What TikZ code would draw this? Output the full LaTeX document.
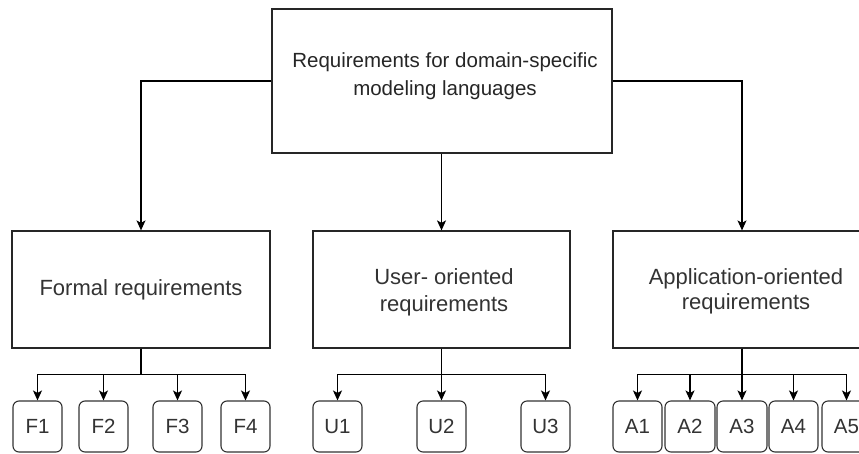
\documentclass[tikz,border=0pt]{standalone}
\usepackage{fontspec}
\setmainfont{Liberation Sans}
\usetikzlibrary{arrows.meta}
\begin{document}
\begin{tikzpicture}[x=1pt,y=-1pt,
  box/.style={draw=black!85,line width=1.2pt,rectangle,inner sep=0pt,align=center,
    text=black!80,font=\fontsize{22}{27}\selectfont},
  leaf/.style={draw=black!80,line width=1.1pt,rectangle,rounded corners=6pt,inner sep=0pt,
    minimum width=49pt,minimum height=51pt,text=black!80,font=\fontsize{20.5}{25}\selectfont},
  conn/.style={draw=black,line width=1.2pt,-{Stealth[length=10pt,width=9pt,inset=2.5pt]}}]
\useasboundingbox (0,0) rectangle (859,453);
\clip (0,0) rectangle (859,453);
\fill[white] (0,0) rectangle (859,453);
% main boxes
\node[box,minimum width=340pt,minimum height=144pt] (top) at (442,81) {};
\node[align=center,text=black!85,font=\fontsize{20.5}{28}\selectfont] (toptext) at (445,76) {Requirements for domain-specific\\modeling languages};
\node[box,minimum width=258pt,minimum height=117pt] (formal) at (141,289.5) {Formal requirements};
\node[box,minimum width=257pt,minimum height=117pt] (user) at (441.5,289.5) {};
\node[align=center,text=black!80,font=\fontsize{22}{27}\selectfont] (usertext) at (444,292) {User- oriented\\requirements};
\node[box,minimum width=258pt,minimum height=117pt] (app) at (742,289.5) {};
\node[align=center,text=black!80,font=\fontsize{22}{25}\selectfont] (apptext) at (746,291) {Application-oriented\\requirements};
% leaves
\node[leaf] (F1) at (37.5,426.5) {F1};
\node[leaf] (F2) at (103.5,426.5) {F2};
\node[leaf] (F3) at (177.5,426.5) {F3};
\node[leaf] (F4) at (245.5,426.5) {F4};
\node[leaf] (U1) at (337.5,426.5) {U1};
\node[leaf] (U2) at (441.5,426.5) {U2};
\node[leaf] (U3) at (545.5,426.5) {U3};
\node[leaf] (A1) at (637.5,426.5) {A1};
\node[leaf,minimum width=50pt] (A2) at (690,426.5) {A2};
\node[leaf,minimum width=50pt] (A3) at (742,426.5) {A3};
\node[leaf] (A4) at (793.5,426.5) {A4};
\node[leaf] (A5) at (846.5,426.5) {A5};
% connectors from top
\draw[conn] (top.west) -| (formal.north);
\draw[conn] (top.east) -| (app.north);
\draw[conn] (top.south -| user.north) -- (user.north);
% bottom connectors
\foreach \n in {F1,F2,F3,F4}{\draw[conn] (formal.south) -- ++(0,26) -| (\n.north);}
\foreach \n in {U1,U2,U3}{\draw[conn] (user.south) -- ++(0,26) -| (\n.north);}
\foreach \n in {A1,A2,A3,A4,A5}{\draw[conn] (app.south) -- ++(0,26) -| (\n.north);}
\end{tikzpicture}
\end{document}
